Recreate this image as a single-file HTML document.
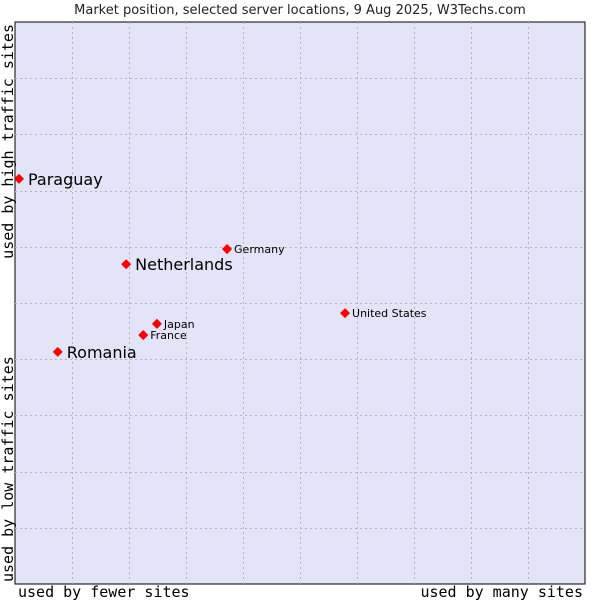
<!DOCTYPE html>
<html><head><meta charset="utf-8"><style>
body{margin:0;background:#fff;width:600px;height:600px;overflow:hidden}
svg{display:block}
</style></head><body>
<svg id="chart" width="600" height="600" xmlns="http://www.w3.org/2000/svg">
<text x="300" y="14" text-anchor="middle" font-family="DejaVu Sans, sans-serif" font-size="13" fill="#222">Market position, selected server locations, 9 Aug 2025, W3Techs.com</text>
<rect x="15" y="22" width="570" height="562" fill="#e3e4f8" stroke="#000" stroke-width="1"/>
<g id="grid"></g>
<g id="points"></g>
<text x="18" y="597" font-family="DejaVu Sans Mono, monospace" font-size="15" fill="#000">used by fewer sites</text>
<text x="583" y="597" text-anchor="end" font-family="DejaVu Sans Mono, monospace" font-size="15" fill="#000">used by many sites</text>
<text transform="translate(13,24) rotate(-90)" text-anchor="end" font-family="DejaVu Sans Mono, monospace" font-size="15" fill="#000">used by high traffic sites</text>
<text transform="translate(13,582) rotate(-90)" font-family="DejaVu Sans Mono, monospace" font-size="15" fill="#000">used by low traffic sites</text>
</svg>
<script>
const names = ["Paraguay","Netherlands","Germany","United States","Japan","France","Romania"];
const xValues = [0.7,19.5,37.2,57.9,24.9,22.5,7.5];
const yValues = [72.1,56.9,59.6,48.2,46.3,44.3,41.3];
const highlighted = [true,true,false,false,false,false,true];
const gridTicks = [10,20,30,40,50,60,70,80,90];

const X0=15,X1=585,Y0=584,Y1=22;
const sx=v=>X0+(X1-X0)*v/100;
const sy=v=>Y0-(Y0-Y1)*v/100;
const NS="http://www.w3.org/2000/svg";
const grid=document.getElementById('grid');
gridTicks.forEach(t=>{
  const v=document.createElementNS(NS,'line');
  
  
  v.setAttribute('x1',Math.round(sx(t))+0.5);v.setAttribute('x2',Math.round(sx(t))+0.5);
  v.setAttribute('y1',Y1);v.setAttribute('y2',Y0);
  v.setAttribute('stroke','#b4b4b4');v.setAttribute('stroke-dasharray','2,3');
  grid.appendChild(v);
  const h=document.createElementNS(NS,'line');
  
  
  h.setAttribute('y1',Math.round(sy(t))+0.5);h.setAttribute('y2',Math.round(sy(t))+0.5);
  h.setAttribute('x1',X0);h.setAttribute('x2',X1);
  h.setAttribute('stroke','#b4b4b4');h.setAttribute('stroke-dasharray','2,3');
  grid.appendChild(h);
});
const pts=document.getElementById('points');
names.forEach((n,i)=>{
  const cx=sx(xValues[i]),cy=sy(yValues[i]);
  const c=document.createElementNS(NS,'path');
  
  
  c.setAttribute('d',`M${cx-4},${cy} L${cx},${cy-4} L${cx+4},${cy} L${cx},${cy+4} Z`);
  c.setAttribute('fill','#ff0000');c.setAttribute('stroke','#ff0000');c.setAttribute('stroke-linejoin','round');c.setAttribute('stroke-width','1.5');
  pts.appendChild(c);
  const t=document.createElementNS(NS,'text');
  
  
  const big=highlighted[i];
  t.setAttribute('x',cx+(big?9:7));
  t.setAttribute('y',cy+(big?6:4));
  t.setAttribute('font-family','DejaVu Sans, sans-serif');
  t.setAttribute('font-size',big?16:11);
  t.setAttribute('fill','#000');
  t.textContent=n;
  pts.appendChild(t);
});
</script>
</body></html>
